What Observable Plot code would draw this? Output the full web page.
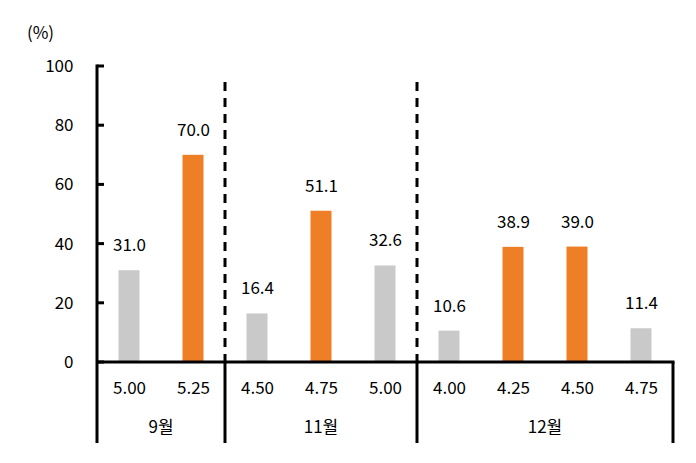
<!DOCTYPE html>
<html><head><meta charset="utf-8">
<script src="https://cdn.jsdelivr.net/npm/d3@7"></script>
<script src="https://cdn.jsdelivr.net/npm/@observablehq/plot@0.6"></script>
<style>
html,body{margin:0;padding:0;background:#fff;}
svg{font-family:"Noto Sans CJK KR","Noto Sans",sans-serif;}
</style></head>
<body><div id="chart"></div>
<script>
const months = ["9월","9월","11월","11월","11월","12월","12월","12월","12월"];
const rates = ["5.00","5.25","4.50","4.75","5.00","4.00","4.25","4.50","4.75"];
const probs = [31.0,70.0,16.4,51.1,32.6,10.6,38.9,39.0,11.4];
const kinds = ["other","max","other","max","other","other","max","max","other"];
const yTicks = [0,20,40,60,80,100];
const groups = ["9월","11월","12월"];

const data = months.map((m,i)=>({key: m+"|"+rates[i], month:m, rate:rates[i], value:probs[i], kind:kinds[i]}));
const keys = data.map(d=>d.key);
const FS = 17;

function structure(index, scales) {
  const x = scales.x, y = scales.y;
  const g = d3.create("svg:g");
  const y0 = y(0), yTop = y(100);
  const step = x(keys[1]) - x(keys[0]);
  const left = x(keys[0]), right = x(keys[keys.length-1]) + step;
  const bottom = y0 + 81;
  g.append("line").attr("x1",left).attr("x2",left).attr("y1",yTop-1.5).attr("y2",bottom)
    .attr("stroke","#000").attr("stroke-width",3);
  for (const t of yTicks) {
    g.append("line").attr("x1",left).attr("x2",left+7).attr("y1",y(t)).attr("y2",y(t))
      .attr("stroke","#000").attr("stroke-width",3);
  }
  g.append("line").attr("x1",left).attr("x2",right+1.5).attr("y1",y0).attr("y2",y0)
    .attr("stroke","#000").attr("stroke-width",3);
  g.append("line").attr("x1",right).attr("x2",right).attr("y1",y0).attr("y2",bottom)
    .attr("stroke","#000").attr("stroke-width",3);
  for (const gname of groups.slice(1)) {
    const k = keys[months.indexOf(gname)];
    const bx = x(k);
    g.append("line").attr("x1",bx).attr("x2",bx).attr("y1",yTop+16).attr("y2",y0)
      .attr("stroke","#000").attr("stroke-width",3).attr("stroke-dasharray","9,7");
    g.append("line").attr("x1",bx).attr("x2",bx).attr("y1",y0).attr("y2",bottom)
      .attr("stroke","#000").attr("stroke-width",3);
  }
  for (const gname of groups) {
    const ks = keys.filter((k,i)=>months[i]===gname);
    const cx = (x(ks[0]) + x(ks[ks.length-1]) + step)/2;
    g.append("text").attr("x",cx).attr("y",y0+66).attr("dy","0.32em").attr("text-anchor","middle")
      .attr("font-size",FS).attr("fill","#000").text(gname);
  }
  return g.node();
}

const chart = Plot.plot({
  width: 696,
  height: 463,
  marginLeft: 97,
  marginRight: 23,
  marginTop: 66,
  marginBottom: 101,
  style: {fontSize: FS+"px", fontFamily: '"Noto Sans CJK KR","Noto Sans",sans-serif', background: "#fff", color: "#000"},
  x: {type: "band", domain: keys, padding: 0, axis: null},
  y: {domain: [0,100], axis: null},
  color: {domain: ["other","max"], range: ["#C9C9C9","#EE7F27"]},
  marks: [
    Plot.barY(data, {x:"key", y:"value", fill:"kind", insetLeft: 21.5, insetRight: 21.5}),
    Plot.text(data, {x:"key", y:"value", text: d=>d.value.toFixed(1), dy:-25, fontSize:FS, fill:"#000"}),
    Plot.text(data, {x:"key", text:"rate", frameAnchor:"bottom", dy:26, lineAnchor:"middle", fontSize:FS, fill:"#000"}),
    Plot.axisY({ticks: yTicks, tickSize: 0, tickPadding: 24, fontSize: FS, label: null, tickFormat: d=>String(d)}),
    Plot.text(["(%)"], {frameAnchor:"top-left", textAnchor:"middle", lineAnchor:"middle", dx:-57, dy:-33, fontSize:FS, fill:"#000"}),
    structure
  ]
});
document.getElementById("chart").appendChild(chart);
</script>
</body></html>
